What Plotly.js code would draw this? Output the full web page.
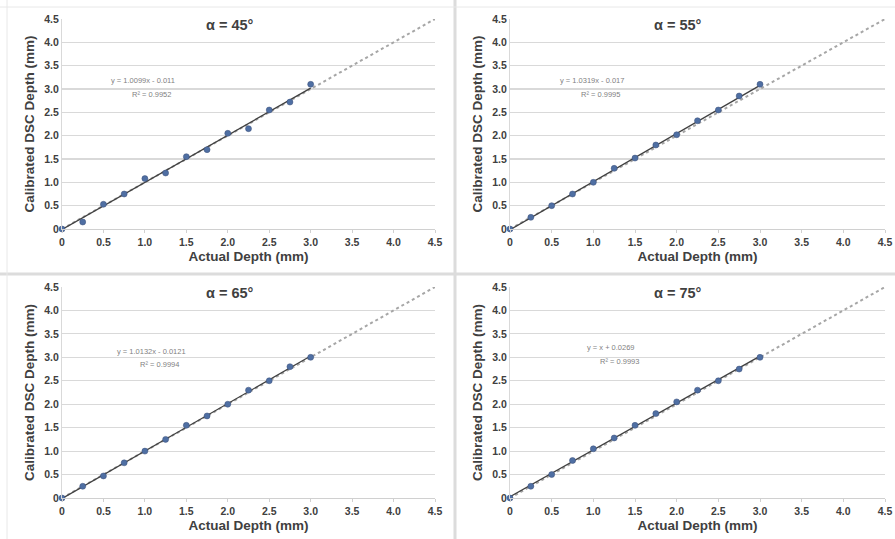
<!DOCTYPE html>
<html>
<head>
<meta charset="utf-8">
<script src="https://cdn.plot.ly/plotly-3.0.1.min.js"></script>
<style>html,body{margin:0;padding:0;background:#fff;}#chart{width:895px;height:539px;}</style>
</head>
<body>
<div id="chart"></div>
<script>
// ---- data ----
const actualDepth = [0, 0.25, 0.5, 0.75, 1.0, 1.25, 1.5, 1.75, 2.0, 2.25, 2.5, 2.75, 3.0];
const depth45 = [0, 0.15, 0.53, 0.75, 1.08, 1.2, 1.55, 1.7, 2.05, 2.15, 2.55, 2.72, 3.1];
const depth55 = [0, 0.25, 0.5, 0.75, 1.0, 1.3, 1.52, 1.8, 2.02, 2.32, 2.55, 2.85, 3.1];
const depth65 = [0, 0.25, 0.47, 0.75, 1.0, 1.25, 1.55, 1.75, 2.0, 2.3, 2.5, 2.8, 3.0];
const depth75 = [0, 0.25, 0.5, 0.8, 1.05, 1.28, 1.55, 1.8, 2.05, 2.3, 2.5, 2.75, 3.0];
const panelTitles = ["α = 45°", "α = 55°", "α = 65°", "α = 75°"];
const fitSlopes = [1.0099, 1.0319, 1.0132, 1.0];
const fitIntercepts = [-0.011, -0.017, -0.0121, 0.0269];
const fitEquations = ["y = 1.0099x - 0.011", "y = 1.0319x - 0.017", "y = 1.0132x - 0.0121", "y = x + 0.0269"];
const fitR2 = ["R² = 0.9952", "R² = 0.9995", "R² = 0.9994", "R² = 0.9993"];
const identityX = [0, 4.5];
const tickVals = [0, 0.5, 1.0, 1.5, 2.0, 2.5, 3.0, 3.5, 4.0, 4.5];
const tickText = ["0", "0.5", "1.0", "1.5", "2.0", "2.5", "3.0", "3.5", "4.0", "4.5"];
const xTitle = "Actual Depth (mm)";
const yTitle = "Calibrated DSC Depth (mm)";

const seriesList = [depth45, depth55, depth65, depth75];
const W = 895, H = 539;
const xDomains = [[62/W, 435/W], [510/W, 885/W]];
const yDomains = [[(H-229)/H, (H-19)/H], [(H-498)/H, (H-287)/H]];
const eqPos = [[143, 81, 95], [592, 81, 95], [151, 351, 365], [611, 347, 361]];

const font = "Liberation Sans, Arial, sans-serif";
const traces = [];
const layout = {
  width: W, height: H,
  margin: {l: 0, r: 0, t: 0, b: 0},
  paper_bgcolor: "#ffffff", plot_bgcolor: "#ffffff",
  showlegend: false,
  font: {family: font, color: "#404040"},
  annotations: [],
  shapes: [
    {type: "line", xref: "paper", yref: "paper", x0: 455/W, x1: 455/W, y0: 0, y1: 1, line: {color: "#dcdcdc", width: 3}},
    {type: "line", xref: "paper", yref: "paper", x0: 0, x1: 1, y0: (H-274)/H, y1: (H-274)/H, line: {color: "#dcdcdc", width: 3}},
    {type: "line", xref: "paper", yref: "paper", x0: 7/W, x1: 7/W, y0: 0, y1: 1, line: {color: "#e8e8e8", width: 1}},
    {type: "line", xref: "paper", yref: "paper", x0: 0, x1: 1, y0: (H-7)/H, y1: (H-7)/H, line: {color: "#e8e8e8", width: 1}}
  ]
};

for (let i = 0; i < 4; i++) {
  const n = i + 1;
  const xa = "x" + (n === 1 ? "" : n), ya = "y" + (n === 1 ? "" : n);
  const col = i % 2, row = Math.floor(i / 2);
  // identity line
  traces.push({x: identityX, y: identityX, xaxis: xa, yaxis: ya, mode: "lines",
    line: {color: "#a6a6a6", width: 2, dash: "dot"}, hoverinfo: "skip"});
  // fit line
  const fx = [actualDepth[0], actualDepth[actualDepth.length - 1]];
  const fy = fx.map(v => fitSlopes[i] * v + fitIntercepts[i]);
  traces.push({x: fx, y: fy, xaxis: xa, yaxis: ya, mode: "lines",
    line: {color: "#404040", width: 1.3}, hoverinfo: "skip"});
  // data
  traces.push({x: actualDepth, y: seriesList[i], xaxis: xa, yaxis: ya, mode: "markers",
    marker: {color: "#4f6fa3", size: 6, line: {color: "#3a4f78", width: 0.5}}, cliponaxis: false});

  const axX = {
    domain: xDomains[col], range: [0, 4.5], tickvals: tickVals, ticktext: tickText,
    showgrid: false, zeroline: false, showline: true, linecolor: "#d0d0d0", linewidth: 1,
    ticks: "outside", ticklen: 3, tickcolor: "#d0d0d0", fixedrange: true,
    tickfont: {family: font, size: 10.5, color: "#404040", weight: "bold"},
    anchor: ya,
    title: {text: xTitle, font: {family: font, size: 13.5, color: "#404040", weight: "bold"}, standoff: 4}
  };
  const axY = {
    domain: yDomains[row], range: [0, 4.5], tickvals: tickVals, ticktext: tickText,
    showgrid: true, gridcolor: "#d9d9d9", gridwidth: 1.2, zeroline: false,
    showline: true, linecolor: "#d9d9d9", linewidth: 1, fixedrange: true,
    tickfont: {family: font, size: 10.5, color: "#404040", weight: "bold"},
    anchor: xa,
    title: {text: yTitle, font: {family: font, size: 13.5, color: "#404040", weight: "bold"}, standoff: 6}
  };
  layout["xaxis" + (n === 1 ? "" : n)] = axX;
  layout["yaxis" + (n === 1 ? "" : n)] = axY;

  const cx = col === 0 ? 230 : 678;
  const ty = row === 0 ? 25 : 293;
  layout.annotations.push({xref: "paper", yref: "paper", x: cx / W, y: (H - ty) / H,
    text: "<b>" + panelTitles[i] + "</b>", showarrow: false, xanchor: "center", yanchor: "middle",
    font: {family: font, size: 14.5, color: "#404040"}});
  const ep = eqPos[i];
  layout.annotations.push({xref: "paper", yref: "paper", x: ep[0] / W, y: (H - ep[1]) / H,
    text: fitEquations[i], showarrow: false, xanchor: "center", yanchor: "middle",
    font: {family: font, size: 7.5, color: "#7f7f7f"}});
  layout.annotations.push({xref: "paper", yref: "paper", x: (ep[0] + 8) / W, y: (H - ep[2]) / H,
    text: fitR2[i], showarrow: false, xanchor: "center", yanchor: "middle",
    font: {family: font, size: 7.5, color: "#7f7f7f"}});
}

Plotly.newPlot("chart", traces, layout, {displayModeBar: false, staticPlot: true});
</script>
</body>
</html>
